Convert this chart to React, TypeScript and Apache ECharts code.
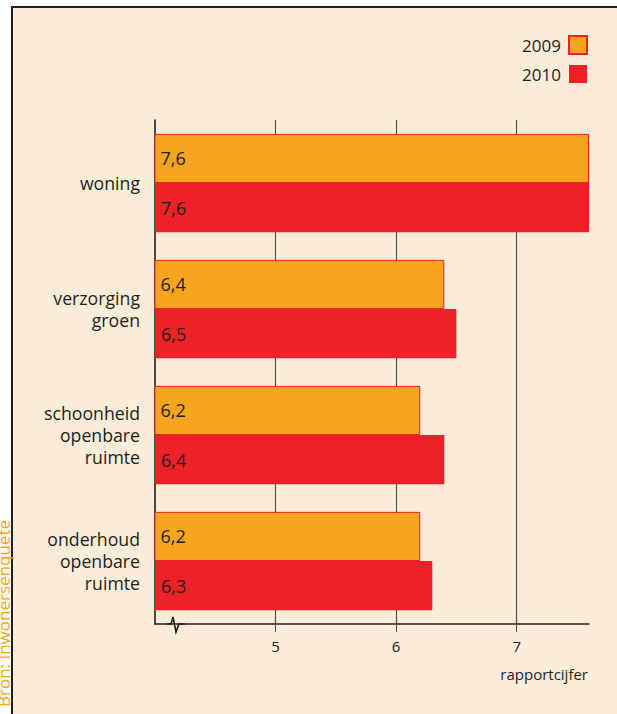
import React, { useEffect, useRef } from "react";
import * as echarts from "echarts";

const categories = ["woning", "verzorging\ngroen", "schoonheid\nopenbare\nruimte", "onderhoud\nopenbare\nruimte"];
const series2009 = [7.6, 6.4, 6.2, 6.2];
const series2010 = [7.6, 6.5, 6.4, 6.3];
const seriesNames = ["2009", "2010"];
const xTickValues = [5, 6, 7];
const axisTitle = "rapportcijfer";
const sourceText = "Bron: Inwonersenquête";

const FONT = "'Open Sans', 'DejaVu Sans', sans-serif";
const ORANGE = "#f7a51e";
const RED = "#ee2128";
const DARK = "#231f20";
const BG = "#fcecd8";

export default function App() {
  const ref = useRef<HTMLDivElement>(null);
  useEffect(() => {
    if (!ref.current) return;
    const chart = echarts.init(ref.current, null, { renderer: "svg" });
    const fmt = (p: any) => String(p.value).replace(".", ",");
    chart.setOption({
      animation: false,
      backgroundColor: "#ffffff",
      textStyle: { fontFamily: FONT },
      graphic: [
        {
          type: "rect",
          z: -10,
          silent: true,
          shape: { x: 12, y: 7, width: 700, height: 800 },
          style: { fill: BG, stroke: DARK, lineWidth: 2 },
        },
        {
          type: "text",
          x: 12,
          y: 520,
          rotation: Math.PI / 2,
          silent: true,
          style: {
            text: sourceText,
            fill: ORANGE,
            fontSize: 17,
            fontFamily: FONT,
            align: "right",
            verticalAlign: "bottom",
          },
        },
        {
          type: "text",
          right: 29,
          top: 666,
          silent: true,
          style: { text: axisTitle, fill: DARK, fontSize: 15, fontFamily: FONT },
        },
        {
          type: "polyline",
          silent: true,
          z: 100,
          shape: { points: [[167, 624], [171, 624], [173, 617], [176, 632], [179, 624], [185, 624]] },
          style: { stroke: DARK, lineWidth: 1.6, fill: null },
        },
      ],
      legend: {
        orient: "vertical",
        right: 29,
        top: 35,
        padding: 0,
        align: "right",
        icon: "rect",
        itemWidth: 18,
        itemHeight: 18,
        itemGap: 10,
        textStyle: { fontSize: 17, color: DARK, fontFamily: FONT, padding: [0, 3, 0, 0] },
        data: seriesNames,
      },
      grid: { left: 155, right: 28, top: 120, bottom: 90, containLabel: false },
      xAxis: {
        type: "value",
        min: 4,
        max: 7.6,
        interval: 1,
        axisLine: { show: true, lineStyle: { color: DARK, width: 1.6 } },
        axisTick: { show: true, length: 8, customValues: xTickValues, lineStyle: { color: "#555" } },
        axisLabel: {
          customValues: xTickValues,
          color: DARK,
          fontSize: 15,
          margin: 14,
          fontFamily: FONT,
        },
        splitLine: {
          show: true,
          lineStyle: { color: "#555", width: 1.2 },
        },
      },
      yAxis: {
        type: "category",
        inverse: true,
        data: categories,
        axisLine: { show: true, lineStyle: { color: DARK, width: 1.6 } },
        axisTick: { show: false },
        axisLabel: {
          color: DARK,
          fontSize: 17.7,
          lineHeight: 22,
          margin: 15,
          padding: [10, 0, 0, 0],
          align: "right",
          fontFamily: FONT,
        },
      },
      series: [
        {
          name: seriesNames[0],
          type: "bar",
          data: series2009,
          barGap: "0%",
          barCategoryGap: "22%",
          itemStyle: { color: ORANGE, borderColor: RED, borderWidth: 1 },
          label: {
            show: true,
            position: "insideLeft",
            distance: 6,
            color: DARK,
            fontSize: 18,
            fontFamily: FONT,
            formatter: fmt,
          },
        },
        {
          name: seriesNames[1],
          type: "bar",
          data: series2010,
          barGap: "0%",
          barCategoryGap: "22%",
          itemStyle: { color: RED },
          label: {
            show: true,
            position: "insideLeft",
            distance: 6,
            color: DARK,
            fontSize: 18,
            fontFamily: FONT,
            formatter: fmt,
          },
        },
      ],
    });
    return () => chart.dispose();
  }, []);
  return (
    <div
      ref={ref}
      style={{ position: "absolute", left: 0, top: 0, width: 617, height: 714 }}
    />
  );
}
